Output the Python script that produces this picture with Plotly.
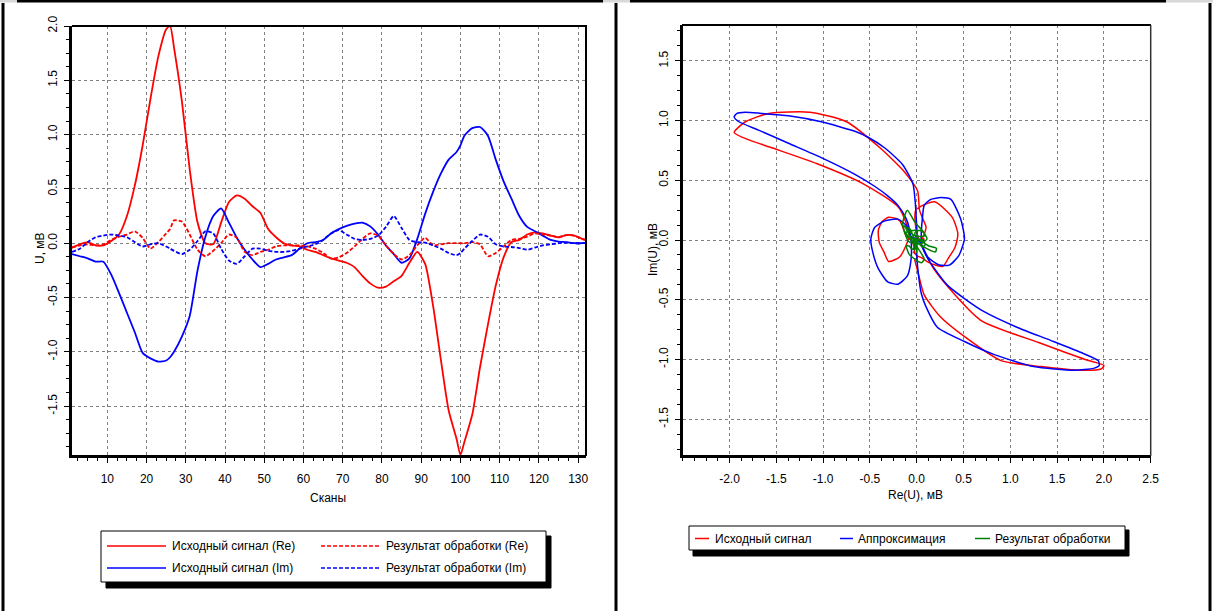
import plotly.graph_objects as go

W, H = 1213, 611
FONT = "Liberation Sans, Arial, sans-serif"

# ---------------- data ----------------
scans = [1, 3, 5, 7, 9, 11, 13, 15, 17, 19, 21, 23, 25, 26,
         27, 29, 31, 33, 35, 37, 39, 41, 43, 45, 47, 49, 51, 53, 55, 57, 59, 61, 63,
         65, 67, 69, 71, 73, 75, 77, 79, 81, 83, 85, 87, 89, 91, 93, 95, 97, 99,
         100,
         101, 103, 105, 107, 109, 111, 113, 115, 117, 119, 121, 123, 125, 127, 129, 131,
         132]

# source signal, real part (red solid)
re_src = [-0.04, -0.01, 0.01, -0.02, -0.02, 0.02, 0.08, 0.25, 0.53, 0.90, 1.33, 1.72, 1.97, 2.00,
          1.80, 1.31, 0.68, 0.19, 0.00, -0.01, 0.19, 0.38, 0.44, 0.41, 0.34, 0.28, 0.13, 0.055, 0.00,
          -0.02, -0.03, -0.06, -0.08, -0.11, -0.14, -0.16, -0.18, -0.22, -0.30, -0.37, -0.41, -0.40,
          -0.35, -0.30, -0.18, -0.08, -0.19, -0.57, -1.07, -1.54, -1.80,
          -1.95,
          -1.83, -1.58, -1.14, -0.75, -0.39, -0.13, 0.01, 0.03, 0.08, 0.10, 0.09, 0.07, 0.055, 0.075,
          0.07, 0.04,
          0.03]

# source signal, imaginary part (blue solid)
im_src = [-0.10, -0.12, -0.14, -0.17, -0.17, -0.29, -0.46, -0.64, -0.82, -1.01, -1.06, -1.09, -1.08, -1.05,
          -1.00, -0.86, -0.67, -0.25, 0.06, 0.25, 0.32, 0.19, 0.05, -0.06, -0.15, -0.22, -0.19, -0.15,
          -0.13, -0.11, -0.05, 0.00, 0.01, 0.03, 0.09, 0.13, 0.16, 0.18, 0.19, 0.155, 0.08, -0.02, -0.10,
          -0.18, -0.14, 0.04, 0.27, 0.47, 0.64, 0.77, 0.84,
          0.90,
          0.99, 1.06, 1.07, 0.99, 0.77, 0.57, 0.41, 0.25, 0.15, 0.11, 0.07, 0.03, 0.015, 0.01, 0.00, 0.00,
          0.00]

# processing result, real part (red dashed)
re_res = [-0.04, -0.02, -0.01, -0.02, -0.01, 0.03, 0.06, 0.08, 0.11, 0.05, -0.05, 0.01, 0.09, 0.13,
          0.21, 0.20, 0.08, -0.06, -0.12, -0.07, 0.00, 0.08, 0.05, -0.08, -0.11, -0.08, -0.06, -0.03,
          -0.02, -0.02, -0.02, -0.03, -0.05, -0.09, -0.14, -0.13, -0.09, -0.03, 0.04, 0.09, 0.07, -0.02,
          -0.10, -0.15, -0.11, -0.02, 0.05, -0.02, -0.01, 0.00, 0.00,
          0.00,
          0.00, 0.01, -0.01, -0.12, -0.09, -0.03, 0.03, 0.04, 0.06, 0.09, 0.08, 0.07, 0.055, 0.075, 0.07, 0.04,
          0.03]

# processing result, imaginary part (blue dashed)
im_res = [-0.08, -0.05, 0.01, 0.055, 0.07, 0.08, 0.07, 0.055, 0.01, -0.03, -0.01, 0.00, -0.03, -0.05,
          -0.07, -0.10, -0.06, 0.02, 0.11, 0.09, -0.05, -0.16, -0.19, -0.12, -0.05, -0.05, -0.07, -0.08,
          -0.08, -0.07, -0.05, -0.03, -0.01, 0.03, 0.09, 0.12, 0.08, 0.04, 0.03, 0.04, 0.07, 0.15, 0.25,
          0.14, 0.03, 0.01, 0.005, -0.02, -0.05, -0.09, -0.11,
          -0.09,
          -0.05, 0.02, 0.08, 0.06, -0.01, -0.03, -0.035, -0.045, -0.06, -0.04, -0.02, -0.01, 0.00, 0.005,
          0.00, 0.00,
          0.00]

# approximation (blue, right chart)
approx_re = [0.0, 0.0, 0.02, 0.05, 0.10, 0.22, 0.51, 0.83, 1.25, 1.68, 1.89, 1.95, 1.94, 1.78, 1.43,
             1.07, 0.72, 0.51, 0.33, 0.19, 0.10, 0.05, 0.05, 0.06, 0.08, 0.15, 0.26, 0.365, 0.47, 0.51,
             0.45, 0.35, 0.24, 0.12, 0.06, 0.02, -0.06, -0.11, -0.20, -0.34, -0.45, -0.49, -0.47, -0.41,
             -0.31, -0.20, -0.10, -0.06, -0.06, -0.08, -0.11, -0.20, -0.31, -0.45, -0.66, -1.02, -1.37,
             -1.69, -1.90, -1.95, -1.92, -1.83, -1.66, -1.37, -1.02, -0.66, -0.52, -0.34, -0.15, -0.04,
             -0.015, 0.0, 0.01, 0.02]
approx_im = [-0.03, -0.12, -0.30, -0.45, -0.56, -0.73, -0.85, -0.96, -1.06, -1.09, -1.075, -1.05, -1.01,
             -0.95, -0.84, -0.73, -0.60, -0.49, -0.38, -0.24, -0.13, -0.03, 0.08, 0.175, 0.29, 0.34, 0.355,
             0.34, 0.175, 0.01, -0.13, -0.21, -0.21, -0.145, -0.05, 0.0, 0.03, 0.12, 0.175, 0.16, 0.105,
             0.01, -0.10, -0.24, -0.35, -0.37, -0.30, -0.16, 0.0, 0.10, 0.175, 0.29, 0.37, 0.45, 0.55, 0.69,
             0.81, 0.92, 0.99, 1.03, 1.06, 1.07, 1.06, 1.04, 0.99, 0.91, 0.86, 0.77, 0.63, 0.47, 0.31, 0.12,
             0.0, -0.02]

assert len(scans) == len(re_src) == len(im_src) == len(re_res) == len(im_res)
assert len(approx_re) == len(approx_im)

# tick labels
x1_ticks = [10, 20, 30, 40, 50, 60, 70, 80, 90, 100, 110, 120, 130]
x1_text = [str(v) for v in x1_ticks]
y1_ticks = [-1.5, -1.0, -0.5, 0.0, 0.5, 1.0, 1.5, 2.0]
y1_text = ["-1.5", "-1.0", "-0.5", "0.0", "0.5", "1.0", "1.5", "2.0"]
x2_ticks = [-2.0, -1.5, -1.0, -0.5, 0.0, 0.5, 1.0, 1.5, 2.0, 2.5]
x2_text = ["-2.0", "-1.5", "-1.0", "-0.5", "0.0", "0.5", "1.0", "1.5", "2.0", "2.5"]
y2_ticks = [-1.5, -1.0, -0.5, 0.0, 0.5, 1.0, 1.5]
y2_text = ["-1.5", "-1.0", "-0.5", "0.0", "0.5", "1.0", "1.5"]

left_names = ["Исходный сигнал (Re)", "Исходный сигнал (Im)",
              "Результат обработки (Re)", "Результат обработки (Im)"]
right_names = ["Исходный сигнал", "Аппроксимация", "Результат обработки"]
x1_title, y1_title = "Сканы", "U, мВ"
x2_title, y2_title = "Re(U), мВ", "Im(U), мВ"

RED, BLUE, GREEN = "#ff0000", "#0000ff", "#008000"
DASH = "4px,2px"


def px(x):
    return x / W


def py(y):
    return 1 - y / H


fig = go.Figure()

# ---------------- left chart ----------------
left_series = [(re_src, RED, "solid"), (im_src, BLUE, "solid"),
               (re_res, RED, DASH), (im_res, BLUE, DASH)]
for (vals, col, dash), name in zip(left_series, left_names):
    fig.add_trace(go.Scatter(x=scans, y=vals, mode="lines", name=name, showlegend=False,
                             line=dict(color=col, width=1.8, dash=dash, shape="spline", smoothing=0.6),
                             xaxis="x", yaxis="y"))

# ---------------- right chart ----------------
right_series = [(re_src, im_src, RED), (approx_re, approx_im, BLUE), (re_res, im_res, GREEN)]
for (xs, ys, col), name in zip(right_series, right_names):
    fig.add_trace(go.Scatter(x=xs, y=ys, mode="lines", name=name, showlegend=False,
                             line=dict(color=col, width=1.5, shape="spline", smoothing=0.6),
                             xaxis="x2", yaxis="y2"))

tickfont = dict(family=FONT, size=12, color="black")
common = dict(showgrid=True, gridcolor="#808080", griddash="3px,3px", gridwidth=1,
              zeroline=False, showline=True, linecolor="black", linewidth=3,
              ticks="outside", ticklen=5, tickwidth=1, tickcolor="black",
              tickfont=tickfont, tickmode="array", automargin=False)
minor_common = dict(ticks="outside", ticklen=3, tickcolor="black", tick0=0, showgrid=False)

fig.update_layout(
    width=W, height=H,
    margin=dict(l=0, r=0, t=0, b=0, pad=0),
    paper_bgcolor="white", plot_bgcolor="white",
    showlegend=False,
    xaxis=dict(common, domain=[px(72), px(586)], anchor="y", range=[1, 132],
               tickvals=x1_ticks, ticktext=x1_text, ticklabelstandoff=6,
               minor=dict(minor_common, dtick=2.5)),
    yaxis=dict(common, domain=[py(455), py(26)], anchor="x", range=[-1.95, 2.0],
               tickvals=y1_ticks, ticktext=y1_text, tickangle=-90, ticklabelstandoff=2,
               minor=dict(minor_common, dtick=0.125)),
    xaxis2=dict(common, domain=[px(682.7), px(1150.7)], anchor="y2", range=[-2.5, 2.5],
                tickvals=x2_ticks, ticktext=x2_text, ticklabelstandoff=6,
                minor=dict(minor_common, dtick=0.125)),
    yaxis2=dict(common, domain=[py(455), py(25)], anchor="x2", range=[-1.8, 1.8],
                tickvals=y2_ticks, ticktext=y2_text, tickangle=-90, ticklabelstandoff=2,
                minor=dict(minor_common, dtick=0.125)),
)

shapes = []


def line(x0, y0, x1, y1, color="black", width=1, dash="solid"):
    shapes.append(dict(type="line", xref="paper", yref="paper",
                       x0=px(x0), y0=py(y0), x1=px(x1), y1=py(y1),
                       line=dict(color=color, width=width, dash=dash), layer="above"))


def rect(x0, y0, x1, y1, fill, lc="black", lw=1):
    shapes.append(dict(type="rect", xref="paper", yref="paper",
                       x0=px(x0), y0=py(y0), x1=px(x1), y1=py(y1),
                       fillcolor=fill, line=dict(color=lc, width=lw), layer="above"))


# outer panel frames
line(0, 1, 17, 1, color="#d8d8d8", width=3)
line(17, 1, 603, 1, width=3)
line(603, 1, 611, 1, color="#d8d8d8", width=3)
line(3, 3, 3, 611, width=3)
line(611, 1, 630, 1, color="#d8d8d8", width=3)
line(630, 1, 1166, 1, width=3)
line(1166, 1, 1213, 1, color="#d8d8d8", width=3)
line(616, 3, 616, 611, width=3)
line(1210, 3, 1210, 611, width=3)

# plot area top/right borders
line(72, 26, 587, 26, width=2)
line(586, 26, 586, 456, width=2)
line(682, 25, 1151, 25, width=2)
line(1150.7, 25, 1150.7, 456, color="#333333", width=1.5)

annotations = []


def text(x, y, s, xanchor="left", angle=0, size=12):
    annotations.append(dict(xref="paper", yref="paper", x=px(x), y=py(y), text=s,
                            showarrow=False, xanchor=xanchor, yanchor="middle", textangle=angle,
                            font=dict(family=FONT, size=size, color="black")))


# axis titles
text(328, 498, x1_title, xanchor="center")
text(40, 248, y1_title, xanchor="center", angle=-90)
text(916, 495, x2_title, xanchor="center")
text(653, 250, y2_title, xanchor="center", angle=-90)

# left legend (manual, with shadow)
rect(106, 536, 551, 588, "black", lc="black")
rect(101, 531, 546, 582, "white", lc="black")
leg_rows = [546, 568]
for i, (name, (vals, col, dash)) in enumerate(zip(left_names, left_series)):
    r = i % 2
    c = i // 2
    lx0, lx1, tx = (107, 166, 170) if c == 0 else (321, 381, 384)
    line(lx0, leg_rows[r], lx1, leg_rows[r], color=col, width=1.5, dash=dash)
    text(tx, leg_rows[r], name)

# right legend
rect(693, 530, 1129, 556, "black", lc="black")
rect(689, 526, 1125, 550, "white", lc="black")
rl = [(695, 709, 713), (840, 853, 856), (975, 990, 993)]
for (lx0, lx1, tx), name, (_, _, col) in zip(rl, right_names, right_series):
    line(lx0, 538.5, lx1, 538.5, color=col, width=1.5)
    text(tx, 538.5, name)

fig.update_layout(shapes=shapes, annotations=annotations)
fig.write_html("out.html")
